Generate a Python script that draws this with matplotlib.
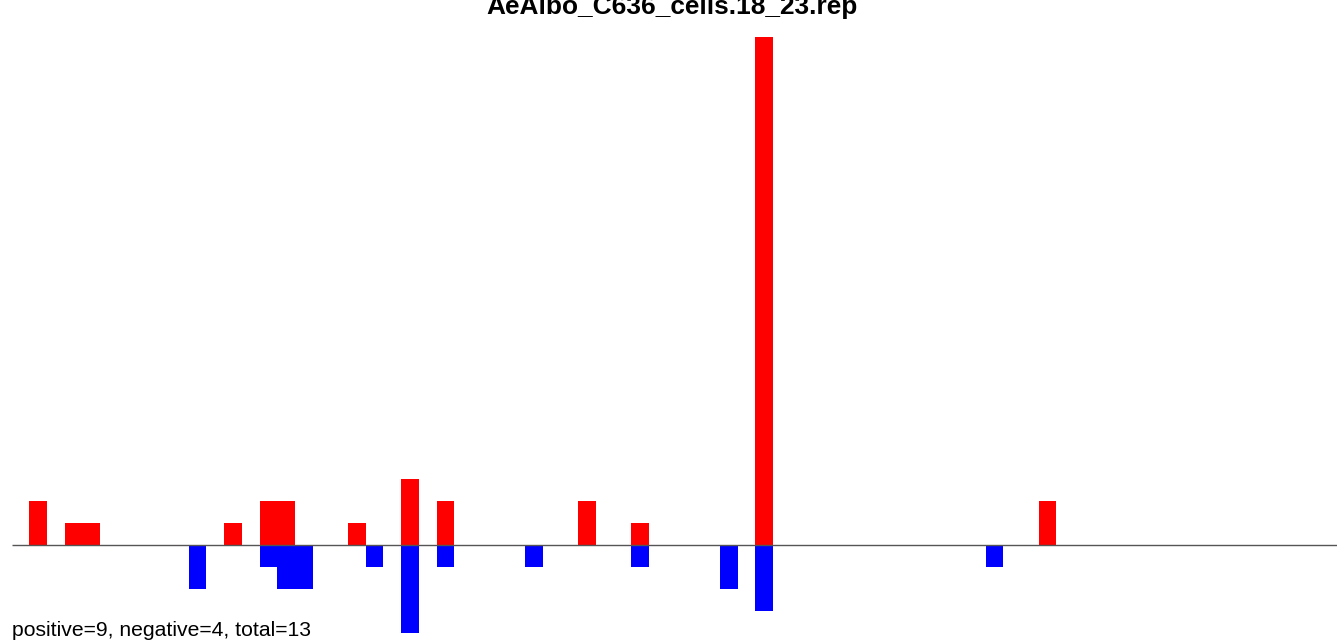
import matplotlib
matplotlib.use("Agg")
import matplotlib.pyplot as plt

title = "AeAlbo_C636_cells.18_23.rep"
summary = "positive=9, negative=4, total=13"

pos_bins = [0, 2, 3, 11, 13, 14, 18, 21, 23, 31, 34, 41, 57]
pos_vals = [2, 1, 1, 1, 2, 2, 1, 3, 2, 2, 1, 23, 2]
neg_bins = [9, 13, 14, 15, 19, 21, 23, 28, 34, 39, 41, 54]
neg_vals = [-2, -1, -2, -2, -1, -4, -1, -1, -1, -2, -3, -1]

W, H = 1337, 643
fig = plt.figure(figsize=(W / 100, H / 100), dpi=100)
ax = fig.add_axes([0, 0, 1, 1])
ax.set_axis_off()

bw = 17.71      # pixels per bin
x0 = 29.3       # pixel of bin 0
yzero = 545     # pixel row of zero line
unit = 22.08    # pixels per count

ax.set_xlim(-x0 / bw, (W - x0) / bw)
ax.set_ylim(-(H - yzero) / unit, yzero / unit)

ax.bar(pos_bins, pos_vals, width=1, align='edge', color='#ff0000', linewidth=0)
ax.bar(neg_bins, neg_vals, width=1, align='edge', color='#0000ff', linewidth=0)
ax.hlines(0, (12 - x0) / bw, (W - x0) / bw, color='#555555', linewidth=1, zorder=3)

fig.text(672 / W, 1 - 14 / H, title, ha='center', va='baseline',
         fontsize=18.9, fontweight='bold', family='Liberation Sans')
fig.text(12 / W, 1 - 636 / H, summary, ha='left', va='baseline',
         fontsize=15.2, family='Liberation Sans')

fig.savefig("out.png", dpi=100)
